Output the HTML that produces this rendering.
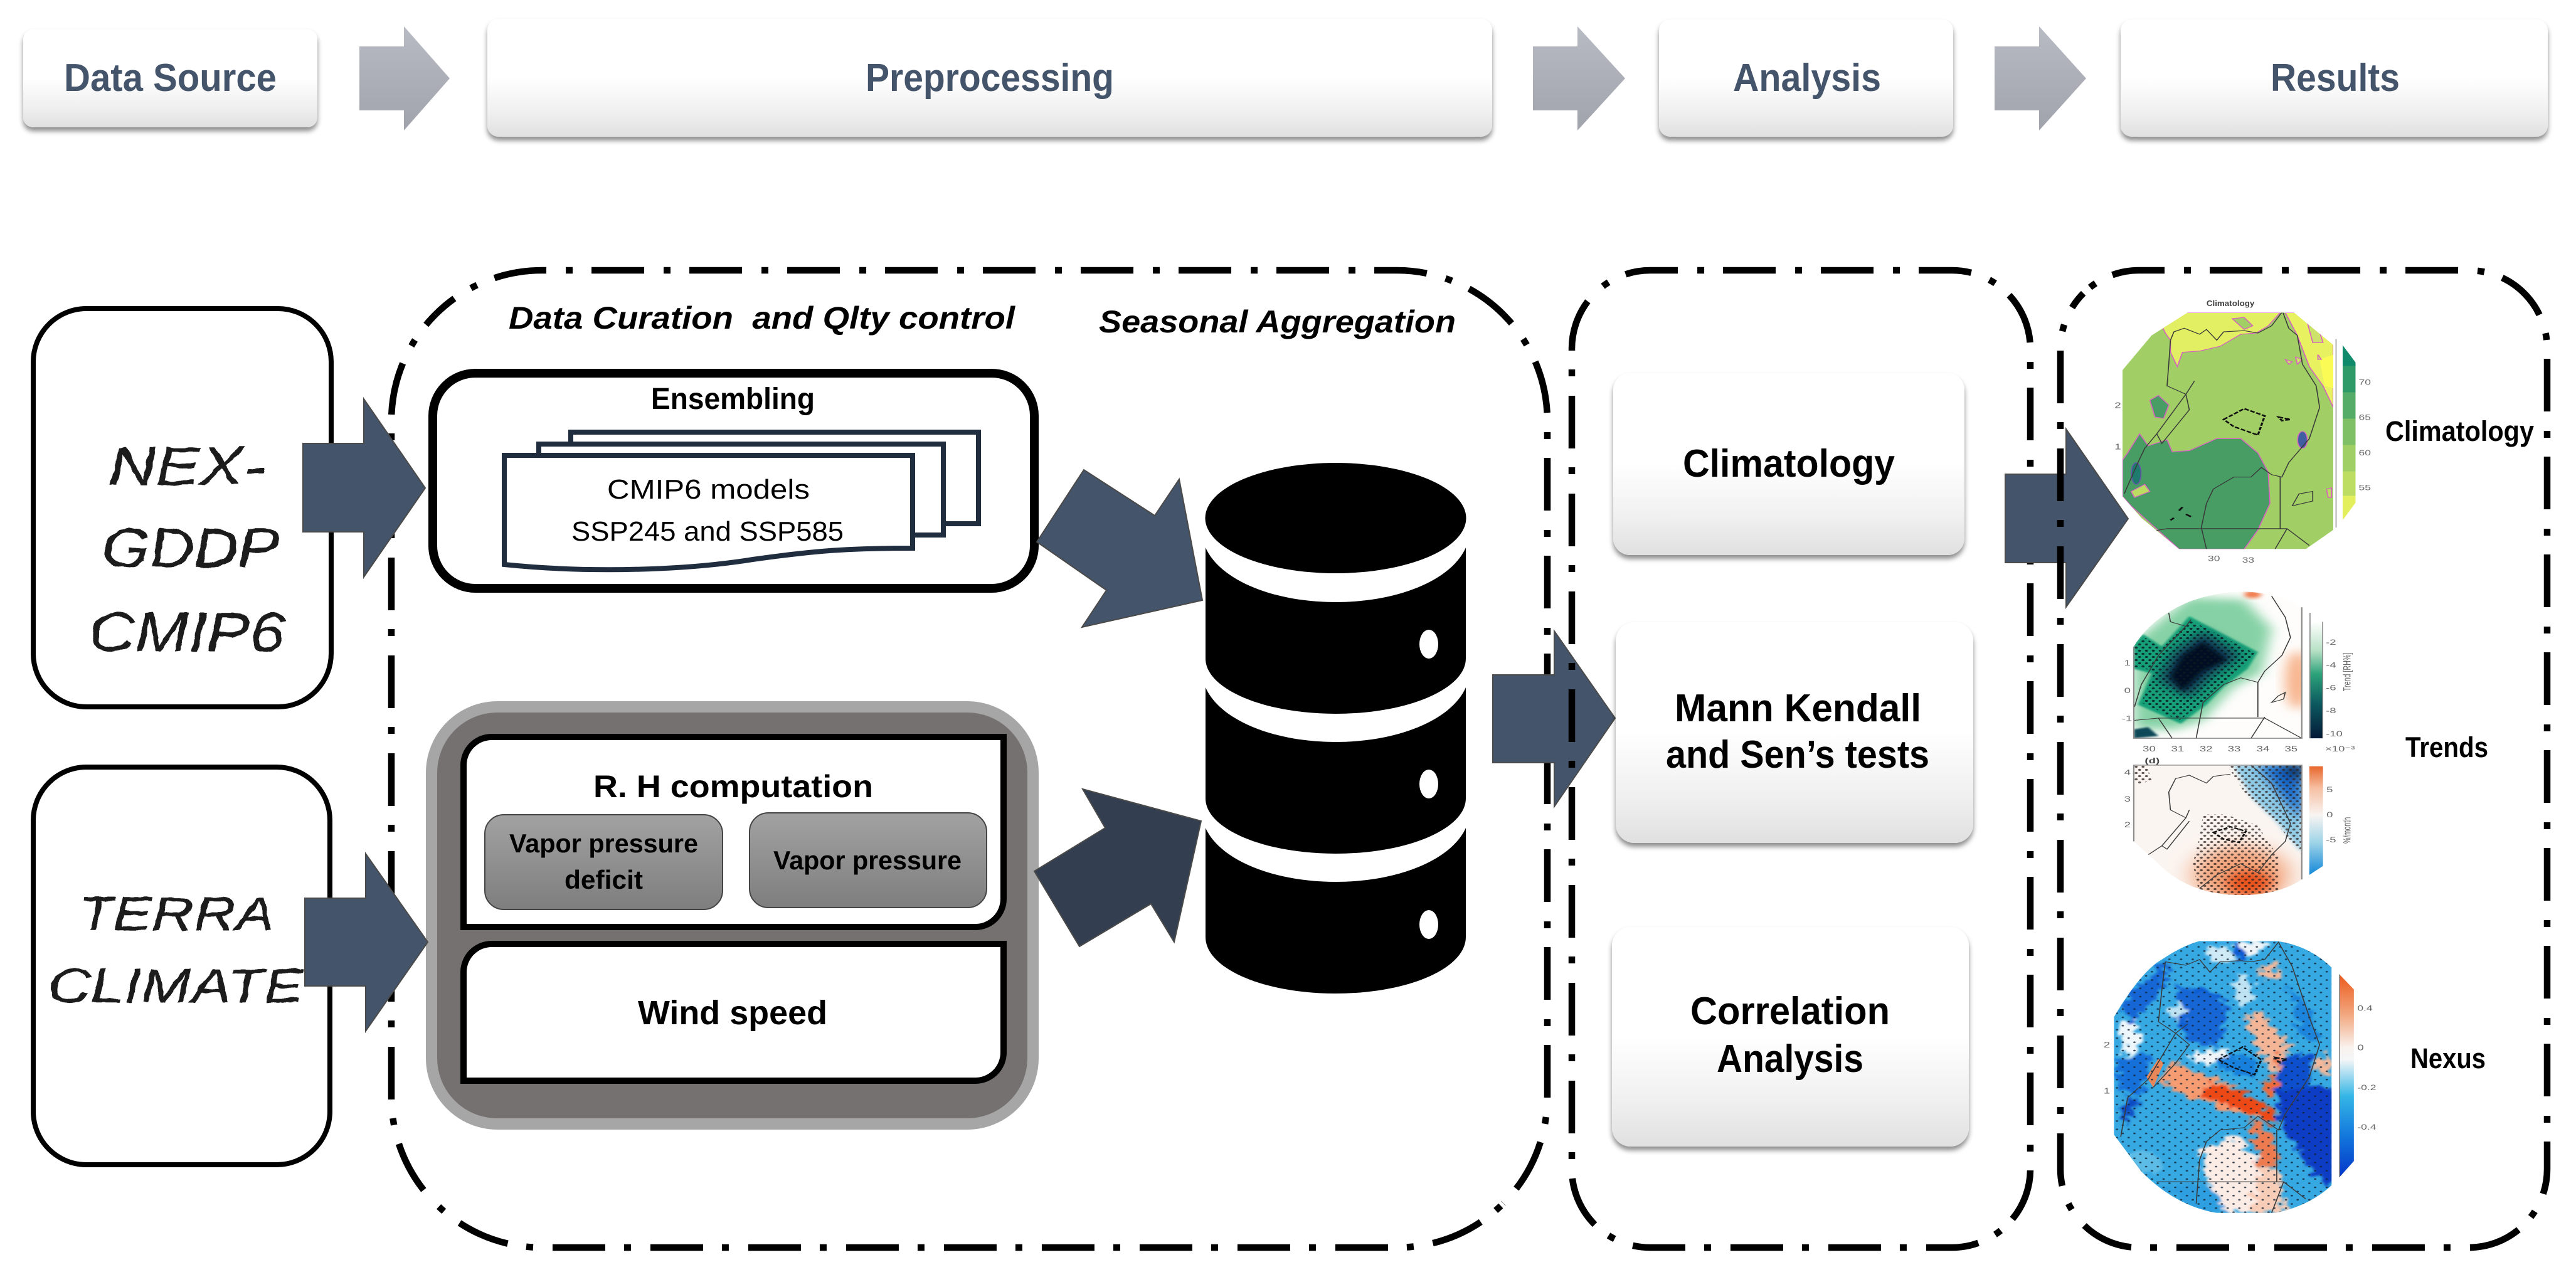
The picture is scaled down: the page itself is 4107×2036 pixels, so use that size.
<!DOCTYPE html>
<html><head><meta charset="utf-8"><title>Workflow diagram</title>
<style>
html,body{margin:0;padding:0;background:#fff;width:4107px;height:2036px;overflow:hidden}
svg{display:block}
text{font-family:"Liberation Sans",Arial,sans-serif}
.b{font-weight:700}
.hd{font-weight:700;fill:#44546a;font-size:62px}
.big{font-weight:700;fill:#000;font-size:62px}
.hw{font-style:italic;fill:#1a1a1a;stroke:#1a1a1a;stroke-width:.4px}
.dd{fill:none;stroke:#000;stroke-width:10.5;stroke-dasharray:84 31 11 30}
.tk{fill:#666;font-size:34px}
.ln{fill:none;stroke:#3a3a3a;stroke-width:3}
</style></head><body>
<svg xmlns="http://www.w3.org/2000/svg" width="4107" height="2036" viewBox="0 0 4107 2036">
<defs>
<linearGradient id="gb" x1="0" y1="0" x2="0" y2="1"><stop offset="0" stop-color="#fff"/><stop offset=".5" stop-color="#fff"/><stop offset=".8" stop-color="#efefef"/><stop offset="1" stop-color="#e0e0e0"/></linearGradient>
<linearGradient id="ga" x1="0" y1="0" x2="0" y2="1"><stop offset="0" stop-color="#b8bbc3"/><stop offset="1" stop-color="#a0a3ab"/></linearGradient>
<linearGradient id="gg" x1="0" y1="0" x2="0" y2="1"><stop offset="0" stop-color="#a2a2a2"/><stop offset="1" stop-color="#7e7e7e"/></linearGradient>
<linearGradient id="cb1" x1="0" y1="0" x2="0" y2="1"><stop offset="0" stop-color="#0f8a6a"/><stop offset=".12" stop-color="#0f8a6a"/><stop offset=".12" stop-color="#2e9a68"/><stop offset=".27" stop-color="#2e9a68"/><stop offset=".27" stop-color="#55ac68"/><stop offset=".42" stop-color="#55ac68"/><stop offset=".42" stop-color="#7fbf66"/><stop offset=".57" stop-color="#7fbf66"/><stop offset=".57" stop-color="#a0cf65"/><stop offset=".72" stop-color="#a0cf65"/><stop offset=".72" stop-color="#bcdc62"/><stop offset=".86" stop-color="#bcdc62"/><stop offset=".86" stop-color="#e4ef5e"/><stop offset="1" stop-color="#e4ef5e"/></linearGradient>
<linearGradient id="cb2" x1="0" y1="0" x2="0" y2="1"><stop offset="0" stop-color="#fff"/><stop offset=".25" stop-color="#b6e0c4"/><stop offset=".45" stop-color="#2ca27a"/><stop offset=".7" stop-color="#0c5a60"/><stop offset="1" stop-color="#041a38"/></linearGradient>
<linearGradient id="cb3" x1="0" y1="0" x2="0" y2="1"><stop offset="0" stop-color="#e8672c"/><stop offset=".2" stop-color="#f6bfa2"/><stop offset=".45" stop-color="#f8f4f2"/><stop offset=".7" stop-color="#9fd4e8"/><stop offset="1" stop-color="#1388d8"/></linearGradient>
<linearGradient id="cb4" x1="0" y1="0" x2="0" y2="1"><stop offset="0" stop-color="#ec5a1c"/><stop offset=".2" stop-color="#f2a880"/><stop offset=".36" stop-color="#f9f2ee"/><stop offset=".42" stop-color="#f4f6f8"/><stop offset=".6" stop-color="#35b6e6"/><stop offset=".8" stop-color="#1276dc"/><stop offset="1" stop-color="#0436c8"/></linearGradient>
<filter id="sh" x="-5%" y="-10%" width="110%" height="125%"><feDropShadow dx="0" dy="6" stdDeviation="4" flood-color="#000" flood-opacity=".45"/></filter>
<filter id="b4"><feGaussianBlur stdDeviation="4"/></filter>
<filter id="b8" x="-30%" y="-30%" width="160%" height="160%"><feGaussianBlur stdDeviation="8"/></filter>
<filter id="b20" x="-40%" y="-40%" width="180%" height="180%"><feGaussianBlur stdDeviation="20"/></filter>
<filter id="b35" x="-50%" y="-50%" width="200%" height="200%"><feGaussianBlur stdDeviation="35"/></filter>
<filter id="rough" x="-5%" y="-5%" width="110%" height="110%"><feTurbulence type="fractalNoise" baseFrequency=".035" numOctaves="3" seed="5" result="n"/><feDisplacementMap in="SourceGraphic" in2="n" scale="70" xChannelSelector="R" yChannelSelector="G" result="d"/><feGaussianBlur in="d" stdDeviation="4"/></filter>
<filter id="hand" x="-5%" y="-10%" width="110%" height="120%"><feTurbulence type="fractalNoise" baseFrequency=".05" numOctaves="2" seed="3" result="n"/><feDisplacementMap in="SourceGraphic" in2="n" scale="7" xChannelSelector="R" yChannelSelector="G"/></filter>
<pattern id="d2" width="20" height="28" patternUnits="userSpaceOnUse"><circle cx="5" cy="7" r="4.5" fill="#0a1a22"/><circle cx="15" cy="21" r="4.5" fill="#0a1a22"/></pattern>
<pattern id="d3" width="20" height="28" patternUnits="userSpaceOnUse"><circle cx="5" cy="7" r="4.5" fill="#2a1f1c"/><circle cx="15" cy="21" r="4.5" fill="#2a1f1c"/></pattern>
<pattern id="d4" width="34" height="36" patternUnits="userSpaceOnUse"><circle cx="8" cy="9" r="3.5" fill="#123" fill-opacity=".8"/><circle cx="25" cy="27" r="3.5" fill="#123" fill-opacity=".8"/></pattern>
</defs>

<!-- header -->
<g filter="url(#sh)" fill="url(#gb)">
<rect x="37" y="47" width="469" height="156" rx="16"/>
<rect x="777" y="30" width="1602" height="188" rx="18"/>
<rect x="2645" y="31" width="469" height="187" rx="18"/>
<rect x="3381" y="31" width="681" height="187" rx="18"/>
</g>
<g fill="url(#ga)">
<path d="M573,74H644V42L717,125L644,208V176H573Z"/>
<path d="M2444,74H2515V42L2591,125L2515,208V176H2444Z"/>
<path d="M3180,74H3251V42L3326,125L3251,208V176H3180Z"/>
</g>
<text class="hd" x="102" y="145" textLength="339" lengthAdjust="spacingAndGlyphs">Data Source</text>
<text class="hd" x="1380" y="145" textLength="396" lengthAdjust="spacingAndGlyphs">Preprocessing</text>
<text class="hd" x="2763" y="145" textLength="236" lengthAdjust="spacingAndGlyphs">Analysis</text>
<text class="hd" x="3620" y="145" textLength="206" lengthAdjust="spacingAndGlyphs">Results</text>

<!-- container 1 -->
<g class="dd">
<path class="dd" stroke-dashoffset="-111.5" d="M694.3,501.3A240,240 0 0 1 864,431H2227A240,240 0 0 1 2396.7,501.3"/>
<path class="dd" stroke-dashoffset="-91.5" d="M2396.7,501.3A240,240 0 0 1 2467,671V1749A240,240 0 0 1 2396.7,1918.7"/>
<path class="dd" stroke-dashoffset="-46.5" d="M2396.7,1918.7A240,240 0 0 1 2227,1989H864A240,240 0 0 1 694.3,1918.7"/>
<path class="dd" stroke-dashoffset="-28.5" d="M694.3,1918.7A240,240 0 0 1 624,1749V671A240,240 0 0 1 694.3,501.3"/>
</g>

<!-- source boxes -->
<rect x="53" y="492" width="475" height="635" rx="85" fill="#fff" stroke="#000" stroke-width="8"/>
<rect x="53" y="1223" width="473" height="634" rx="85" fill="#fff" stroke="#000" stroke-width="8"/>
<g class="hw" filter="url(#hand)">
<text x="173" y="773" font-size="86" textLength="250" lengthAdjust="spacingAndGlyphs">NEX-</text>
<text x="163" y="904" font-size="88" textLength="282" lengthAdjust="spacingAndGlyphs">GDDP</text>
<text x="141" y="1038" font-size="88" textLength="314" lengthAdjust="spacingAndGlyphs">CMIP6</text>
<text x="124" y="1483" font-size="76" textLength="314" lengthAdjust="spacingAndGlyphs">TERRA</text>
<text x="76" y="1598" font-size="76" textLength="408" lengthAdjust="spacingAndGlyphs">CLIMATE</text>
</g>

<text class="b" font-style="italic" x="811" y="524" font-size="50" textLength="807" lengthAdjust="spacingAndGlyphs" xml:space="preserve">Data Curation  and Qlty control</text>
<text class="b" font-style="italic" x="1752" y="530" font-size="50" textLength="569" lengthAdjust="spacingAndGlyphs">Seasonal Aggregation</text>

<!-- ensembling -->
<rect x="690" y="595" width="959" height="343" rx="68" fill="#fff" stroke="#000" stroke-width="14"/>
<text class="b" x="1038" y="652" font-size="48" textLength="261" lengthAdjust="spacingAndGlyphs">Ensembling</text>
<g fill="#fff" stroke="#1f2d3f" stroke-width="8">
<rect x="910" y="689" width="650" height="146"/>
<rect x="859" y="708" width="645" height="145"/>
<path d="M804,726H1455V874C1350,874 1300,878 1200,892C1100,908 950,915 804,900Z"/>
</g>
<text x="968" y="795" font-size="44" textLength="323" lengthAdjust="spacingAndGlyphs">CMIP6 models</text>
<text x="911" y="862" font-size="44" textLength="434" lengthAdjust="spacingAndGlyphs">SSP245 and SSP585</text>

<!-- gray box -->
<rect x="688" y="1127" width="959" height="665" rx="105" fill="#767171" stroke="#a6a6a6" stroke-width="18"/>
<path d="M784,1175H1600V1433A45,45 0 0 1 1555,1478H739V1220A45,45 0 0 1 784,1175Z" fill="#fff" stroke="#000" stroke-width="10"/>
<path d="M784,1505H1600V1678A45,45 0 0 1 1555,1723H739V1550A45,45 0 0 1 784,1505Z" fill="#fff" stroke="#000" stroke-width="10"/>
<text class="b" x="946" y="1271" font-size="50" textLength="446" lengthAdjust="spacingAndGlyphs">R. H computation</text>
<rect x="773" y="1299" width="379" height="151" rx="30" fill="url(#gg)" stroke="#444" stroke-width="2"/>
<rect x="1195" y="1296" width="378" height="151" rx="30" fill="url(#gg)" stroke="#444" stroke-width="2"/>
<text class="b" x="812" y="1359" font-size="42" textLength="301" lengthAdjust="spacingAndGlyphs">Vapor pressure</text>
<text class="b" x="900" y="1417" font-size="42" textLength="125" lengthAdjust="spacingAndGlyphs">deficit</text>
<text class="b" x="1233" y="1386" font-size="42" textLength="300" lengthAdjust="spacingAndGlyphs">Vapor pressure</text>
<text class="b" x="1017" y="1633" font-size="54" textLength="302" lengthAdjust="spacingAndGlyphs">Wind speed</text>

<!-- arrows left -->
<g stroke="#4a4a4a" stroke-width="2">
<path fill="#44546a" d="M483,707H580V636L678,778L580,920V848H483Z"/>
<path fill="#44546a" d="M486,1432H583V1361L682,1502L583,1644V1572H486Z"/>
<path fill="#44546a" d="M1653,864L1728,749L1841,822L1880,764L1917,957L1725,1000L1764,941Z"/>
<path fill="#333f50" d="M1649,1389L1762,1320L1726,1258L1915,1309L1872,1502L1835,1441L1721,1509Z"/>
</g>

<!-- database -->
<g fill="#000">
<ellipse cx="2129.5" cy="826" rx="208" ry="88"/>
<path d="M1922,873C1945,925 2030,960 2129.5,960C2229,960 2314,925 2337,873V1050C2337,1098 2245,1138 2129.5,1138C2014,1138 1922,1098 1922,1050Z"/>
<path d="M1922,1096C1945,1148 2030,1183 2129.5,1183C2229,1183 2314,1148 2337,1096V1273C2337,1321 2245,1361 2129.5,1361C2014,1361 1922,1321 1922,1273Z"/>
<path d="M1922,1320C1945,1371 2030,1406 2129.5,1406C2229,1406 2314,1371 2337,1320V1494C2337,1544 2245,1584 2129.5,1584C2014,1584 1922,1544 1922,1494Z"/>
</g>
<g fill="#fff"><ellipse cx="2278" cy="1027" rx="15" ry="23"/><ellipse cx="2278" cy="1250" rx="15" ry="23"/><ellipse cx="2278" cy="1474" rx="15" ry="23"/></g>

<!-- arrow to analysis -->
<path fill="#44546a" stroke="#4a4a4a" stroke-width="2" d="M2380,1076H2478V1006L2575,1145L2478,1286V1216H2380Z"/>

<!-- container 2 -->
<path class="dd" stroke-dashoffset="-58.2" d="M2542.6,467.6A125,125 0 0 1 2631,431H3112A125,125 0 0 1 3200.4,467.6"/>
<path class="dd" stroke-dashoffset="-4.2" d="M3200.4,467.6A125,125 0 0 1 3237,556V1864A125,125 0 0 1 3200.4,1952.4"/>
<path class="dd" stroke-dashoffset="-55.2" d="M3200.4,1952.4A125,125 0 0 1 3112,1989H2631A125,125 0 0 1 2542.6,1952.4"/>
<path class="dd" stroke-dashoffset="-155.2" d="M2542.6,1952.4A125,125 0 0 1 2506,1864V556A125,125 0 0 1 2542.6,467.6"/>

<g filter="url(#sh)" fill="url(#gb)">
<rect x="2572" y="595" width="560" height="290" rx="27"/>
<rect x="2576" y="992" width="570" height="352" rx="30"/>
<rect x="2570" y="1478" width="569" height="350" rx="30"/>
</g>
<text class="big" x="2683" y="760" textLength="338" lengthAdjust="spacingAndGlyphs">Climatology</text>
<text class="big" x="2670" y="1150" textLength="393" lengthAdjust="spacingAndGlyphs">Mann Kendall</text>
<text class="big" x="2656" y="1224" textLength="420" lengthAdjust="spacingAndGlyphs">and Sen’s tests</text>
<text class="big" x="2695" y="1633" textLength="318" lengthAdjust="spacingAndGlyphs">Correlation</text>
<text class="big" x="2737" y="1709" textLength="234" lengthAdjust="spacingAndGlyphs">Analysis</text>

<!-- arrow to results -->
<path fill="#44546a" stroke="#4a4a4a" stroke-width="2" d="M3197,756H3294V684L3393,827L3294,968V897H3197Z"/>

<!-- container 3 -->
<path class="dd" stroke-dashoffset="-55.2" d="M3321.6,467.6A125,125 0 0 1 3410,431H3936A125,125 0 0 1 4024.4,467.6"/>
<path class="dd" stroke-dashoffset="-114.2" d="M4024.4,467.6A125,125 0 0 1 4061,556V1864A125,125 0 0 1 4024.4,1952.4"/>
<path class="dd" stroke-dashoffset="-12.2" d="M4024.4,1952.4A125,125 0 0 1 3936,1989H3410A125,125 0 0 1 3321.6,1952.4"/>
<path class="dd" stroke-dashoffset="-71.2" d="M3321.6,1952.4A125,125 0 0 1 3285,1864V556A125,125 0 0 1 3321.6,467.6"/>

<text class="b" x="3803" y="703" font-size="45" textLength="237" lengthAdjust="spacingAndGlyphs">Climatology</text>
<text class="b" x="3835" y="1207" font-size="45" textLength="132" lengthAdjust="spacingAndGlyphs">Trends</text>
<text class="b" x="3843" y="1703" font-size="45" textLength="120" lengthAdjust="spacingAndGlyphs">Nexus</text>

<!-- MAP 1 -->
<g transform="translate(3250,420) scale(.5466,.3827)">
<clipPath id="m1"><path d="M435,205H745L860,340V1110L780,1190H410L300,1060L245,970V445L330,300Z"/></clipPath>
<text x="490" y="178" fill="#444" font-size="34" font-weight="700" textLength="140" lengthAdjust="spacingAndGlyphs">Climatology</text>
<g clip-path="url(#m1)">
<rect x="245" y="205" width="615" height="985" fill="#a2cf65"/>
<path d="M340,205L370,290L385,320L385,370L405,430L420,370L470,365L530,345L590,295L635,290L670,260L705,205Z" fill="#e2ef62" stroke="#d85cc4" stroke-width="3"/>
<path d="M720,205L755,300L790,430L830,510L860,600V205Z" fill="#e8f160" stroke="#d85cc4" stroke-width="3"/>
<path d="M820,400L860,380V520L835,510Z" fill="#fbfb55"/>
<path d="M565,230L600,225L625,260L600,275Z" fill="#a2cf65" stroke="#d85cc4" stroke-width="3"/>
<path d="M785,250L810,240L830,330L800,330Z M720,400L740,410L730,420Z M750,390L770,400L755,420Z M815,380L825,400L815,400Z" fill="#cde26a" stroke="#d85cc4" stroke-width="3"/>
<path d="M245,820L260,790L295,710L320,760L375,735L390,785L440,780L520,730L590,730L640,790L670,870L675,1000L640,1110L600,1190H410L270,1010L245,970Z" fill="#479d64" stroke="#d85cc4" stroke-width="3"/>
<path d="M325,570L350,550L380,590L365,645L340,640Z" fill="#479d64" stroke="#d85cc4" stroke-width="3"/>
<ellipse cx="770" cy="735" rx="14" ry="35" fill="#3f5fa0" stroke="#d85cc4" stroke-width="3"/>
<ellipse cx="285" cy="875" rx="14" ry="45" fill="#1d7a6c" stroke="#6a4fb0" stroke-width="3"/>
<path d="M270,950L310,920L325,950L280,975Z" fill="#bcdc62" stroke="#d85cc4" stroke-width="3"/>
<path d="M840,940L855,935V975L845,975Z" fill="#bcdc62" stroke="#d85cc4" stroke-width="3"/>
<path class="ln" d="M385,320L395,285L425,270L470,295L490,275L520,320L540,285L600,280L640,290L680,260L712,200L730,270L755,300L770,420L810,510L820,600L790,730L730,830L710,890L680,880L650,850L620,890L570,890L510,940L490,1000L475,1100L490,1190"/>
<path class="ln" d="M385,320L380,420L375,510L430,545L455,490M430,545L345,710L360,750L440,610L430,545M345,710L310,770L290,830L250,960M335,1115L375,1105H725L790,1175M705,890V1105M725,1105L690,1190M740,1010L760,960L800,950L800,990L740,1010"/>
<path d="M540,650L600,605L660,635L640,715L570,680Z M700,640L735,650L710,655Z" fill="none" stroke="#111" stroke-width="6" stroke-dasharray="14 5"/>
<path d="M410,1030L420,1015M385,1070L395,1060M430,1045L445,1055" stroke="#111" stroke-width="6"/>
</g>
<rect x="887" y="340" width="38" height="730" fill="url(#cb1)" clip-path="polygon(0 0,100% 10%,100% 90%,0 100%)"/>
<path d="M868,315V1100" stroke="#999" stroke-width="3"/>
<g class="tk"><text x="934" y="505" font-size="32">70</text><text x="934" y="652" font-size="32">65</text><text x="934" y="800" font-size="32">60</text><text x="934" y="945" font-size="32">55</text>
<text x="222" y="602">2</text><text x="222" y="775">1</text><text x="494" y="1240" font-size="32">30</text><text x="594" y="1246" font-size="32">33</text></g>
</g>

<!-- MAP 2 -->
<g transform="translate(3250,920) scale(.5466,.3571)">
<clipPath id="m2"><path d="M278,720V310Q330,180 440,110Q520,65 600,65Q700,70 768,135V720Z"/></clipPath>
<clipPath id="m2d"><path d="M278,310L305,265L360,320L440,190L630,340L600,400L530,480L480,560L410,640L300,560L340,420L278,400Z"/></clipPath>
<g clip-path="url(#m2)">
<rect x="278" y="65" width="490" height="655" fill="#fefdfb"/>
<path d="M278,290L440,90L600,100L680,230L650,430L570,490L480,640L400,680L280,680L278,500Z" fill="#86d2a6" filter="url(#b20)"/>
<ellipse cx="625" cy="78" rx="25" ry="16" fill="#f0784a" filter="url(#b8)"/>
<ellipse cx="755" cy="460" rx="35" ry="130" fill="#f7b48c" filter="url(#b20)"/>
<path d="M278,300L305,255L360,310L440,175L640,335L610,410L540,490L490,570L415,655L290,570L330,430L278,410Z" fill="#17a078" filter="url(#b4)"/>
<path d="M480,240L590,350L500,450L440,540L350,460L390,340Z" fill="#0b3a55" filter="url(#b20)"/>
<path d="M480,290L550,370L480,420L420,510L385,445L420,350Z" fill="#020f22" filter="url(#b8)"/>
<path d="M278,680L320,670L350,710L278,720Z" fill="#0b4a58" filter="url(#b4)"/>
<rect x="278" y="180" width="400" height="480" fill="url(#d2)" clip-path="url(#m2d)" opacity=".85"/>
<path class="ln" d="M380,160L385,200L430,220M280,580L300,480L350,350L430,220L445,190M680,85L720,180L735,270L710,350L660,420L640,470L590,450L540,480L480,560L470,640L460,720M278,640L350,630H660L768,720M640,470V625M660,625L620,720M350,630L390,720M700,530L720,515L715,545L680,560Z"/>
</g>
<path d="M278,310V720H768V135" fill="none" stroke="#8a8a8a" stroke-width="4"/>
<rect x="790" y="200" width="40" height="520" fill="url(#cb2)"/>
<path d="M792,160V720M829,200V720" stroke="#888" stroke-width="3" fill="none"/>
<g class="tk"><text x="838" y="302">-2</text><text x="838" y="404">-4</text><text x="838" y="506">-6</text><text x="838" y="608">-8</text><text x="838" y="712">-10</text>
<text x="250" y="395">1</text><text x="250" y="518">0</text><text x="243" y="642">-1</text>
<text x="304" y="778">30</text><text x="387" y="778">31</text><text x="470" y="778">32</text><text x="552" y="778">33</text><text x="636" y="778">34</text><text x="718" y="778">35</text>
<text x="836" y="778">×10⁻³</text>
<text transform="translate(910,510) rotate(-90)" font-size="30">Trend [RH%]</text>
<text x="310" y="832" font-weight="700" fill="#444">(d)</text></g>
</g>

<!-- MAP 3 -->
<g transform="translate(3250,920) scale(.5466,.3571)">
<clipPath id="m3"><path d="M278,840H768V1350Q700,1420 590,1420Q440,1420 350,1280L278,1180Z"/></clipPath>
<clipPath id="m3a"><path d="M550,840H768V1240L700,1110L600,960Z"/></clipPath>
<clipPath id="m3b"><path d="M480,1060H545L640,1110L700,1250L700,1420H470L450,1280L470,1160Z M278,840H315L330,905L290,930L278,900Z"/></clipPath>
<g clip-path="url(#m3)">
<rect x="278" y="840" width="490" height="580" fill="#fbf5f1"/>
<path d="M570,840H768V1230L700,1100L620,980Z" fill="#90cbe6" filter="url(#b8)"/>
<path d="M640,840H768V1090L710,980Z" fill="#1268c8" filter="url(#b20)"/>
<path d="M710,840H768V920Z" fill="#04123a" filter="url(#b20)"/>
<ellipse cx="590" cy="1330" rx="140" ry="130" fill="#f3a47c" filter="url(#b35)"/>
<ellipse cx="615" cy="1365" rx="65" ry="55" fill="#e8531a" filter="url(#b20)"/>
<rect x="278" y="840" width="490" height="580" fill="url(#d3)" clip-path="url(#m3a)" opacity=".7"/>
<rect x="278" y="840" width="490" height="580" fill="url(#d3)" clip-path="url(#m3b)" opacity=".75"/>
<path class="ln" d="M385,1040L380,960L400,900L440,885L490,920L510,890L560,880M385,1040L430,1075L440,1040M430,1075L360,1200L320,1240M360,1200L375,1215L440,1090M620,840L680,920L735,1100L720,1180L680,1240L640,1320L590,1280L520,1330L470,1390"/>
<path d="M510,1140L560,1115L605,1135L585,1185L540,1170Z" fill="none" stroke="#111" stroke-width="6" stroke-dasharray="12 5"/>
</g>
<path d="M278,1180V840H768V1350" fill="none" stroke="#8a8a8a" stroke-width="4"/>
<path d="M790,845H830V1290L790,1330Z" fill="url(#cb3)"/>
<g class="tk"><text x="840" y="960">5</text><text x="840" y="1072">0</text><text x="838" y="1184">-5</text>
<text x="250" y="884">4</text><text x="250" y="1002">3</text><text x="250" y="1118">2</text>
<text transform="translate(910,1190) rotate(-90)" font-size="30">%/month</text></g>
</g>

<!-- MAP 4 -->
<g transform="translate(3250,1460) scale(.5466,.3673)">
<clipPath id="m4"><path d="M470,110H695Q790,130 855,225V1170Q790,1260 690,1290H520Q400,1260 300,1110L220,950V440Q300,240 360,190Q420,130 470,110Z"/></clipPath>
<g clip-path="url(#m4)">
<rect x="220" y="110" width="640" height="1180" fill="#36a8e2"/>
<g filter="url(#rough)">
<path d="M240,380L370,190L370,310L270,470Z" fill="#1266d6"/>
<ellipse cx="480" cy="430" rx="70" ry="115" fill="#0f5cd2"/>
<path d="M400,300L550,370L530,560L440,540Z" fill="#1266d6"/>
<path d="M220,620L330,600L300,790L240,750Z" fill="#1470da"/>
<path d="M240,820L295,790L260,920Z" fill="#0a4cc4"/>
<ellipse cx="590" cy="155" rx="18" ry="30" fill="#0f5cd2"/>
<path d="M700,700L880,760V1190L790,1100L700,880Z" fill="#0a3cc4"/>
<path d="M690,620L800,600L780,760L700,760Z" fill="#0c50cc"/>
<path d="M520,600L640,610L640,700L530,680Z" fill="#1880dc"/>
<path d="M730,300L790,400L820,560L760,520Z" fill="#1a84dc"/>
<ellipse cx="268" cy="530" rx="28" ry="75" fill="#eef7fb"/>
<ellipse cx="625" cy="135" rx="35" ry="35" fill="#eef4f8"/>
<ellipse cx="530" cy="170" rx="40" ry="35" fill="#cfe9f5"/>
<ellipse cx="405" cy="415" rx="22" ry="32" fill="#bfe2f2"/>
<ellipse cx="600" cy="320" rx="25" ry="70" fill="#bfe3f3"/>
<path d="M240,1060L300,1000L360,1060L340,1130Z" fill="#5dbce6"/>
<path d="M480,1020L580,950L640,1060L690,1290H530L490,1150Z" fill="#fcece6"/>
<path d="M360,1180L480,1160L560,1290H470Z" fill="#2f9fe0"/>
<path d="M440,600L560,580L520,650L460,650Z" fill="#eef4f8"/>
<path d="M800,650L850,590V690L820,680Z" fill="#f4b89a"/>
<path d="M600,430L650,420L730,560L700,680L660,640Z" fill="#f3b596"/>
<path d="M640,240L680,190L700,270L650,280Z" fill="#f4b89a"/>
<path d="M360,700L400,640L540,720L600,760L700,870L690,910L640,880L500,820L370,740Z" fill="#f59c72"/>
<path d="M620,880L690,960L705,1090L640,1090Z" fill="#ee7a50"/>
<path d="M640,1090L700,1100L720,1290H620Z" fill="#f8cdb8"/>
<path d="M470,770L520,720L600,760L700,870L690,915L620,860L530,810Z" fill="#ed4a12"/>
<path d="M655,720L690,690L700,760L670,790Z M680,620L700,600L700,680Z" fill="#ef6a38"/>
</g>
<path d="M315,700L350,620L365,640L335,745Z" fill="#e8885a"/>
<rect x="220" y="110" width="640" height="1180" fill="url(#d4)"/>
<path class="ln" d="M370,200L360,320L350,460L400,510L435,470M400,510L320,710L260,790L240,960M400,510L440,560L400,640L335,745M370,200L430,215L470,190L500,245L530,200L590,195L620,200L660,190L700,115L740,220L790,440L820,560L790,700L720,860L700,930L640,870L600,920L530,930L490,980L470,1060L460,1250M345,1155H715L780,1230M695,930V1155M715,1155L680,1290"/>
<path d="M525,625L595,570L650,625L630,690L570,660Z M690,615L725,625L700,635Z" fill="none" stroke="#0b1520" stroke-width="6" stroke-dasharray="14 5"/>
</g>
<path d="M878,255L920,320V1065L878,1135Z" fill="url(#cb4)"/>
<path d="M878,255V1135" stroke="#888" stroke-width="3"/>
<g class="tk"><text x="930" y="412" font-size="32">0.4</text><text x="930" y="584">0</text><text x="930" y="757" font-size="32">-0.2</text><text x="930" y="928" font-size="32">-0.4</text>
<text x="190" y="572">2</text><text x="190" y="772">1</text></g>
</g>
</svg>
</body></html>
